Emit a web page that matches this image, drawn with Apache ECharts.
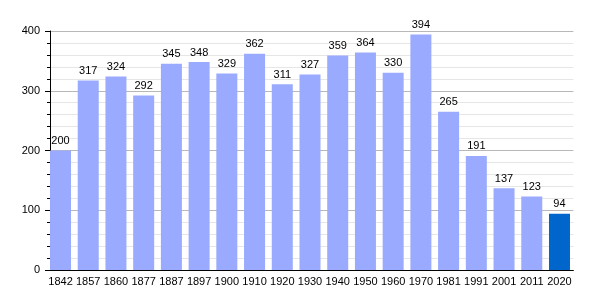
<!DOCTYPE html>
<html><head><meta charset="utf-8">
<script src="https://cdn.jsdelivr.net/npm/echarts@6/dist/echarts.min.js"></script>
<style>html,body{margin:0;padding:0;background:#fff}#c{width:600px;height:300px}</style>
</head><body><div id="c"></div>
<script>
const years = ['1842','1857','1860','1877','1887','1897','1900','1910','1920','1930','1940','1950','1960','1970','1981','1991','2001','2011','2020'];
const population = [200,317,324,292,345,348,329,362,311,327,359,364,330,394,265,191,137,123,94];
const yTicks = {min:0, max:400, interval:100};
const baseColor = '#99aaff';
const lastColor = '#0066cc';

const chart = echarts.init(document.getElementById('c'), null, {renderer:'canvas'});
const barData = population.map((v,i)=>({value:v, itemStyle:{color: i===population.length-1 ? lastColor : baseColor}}));
const font = 'Liberation Sans, Arial, sans-serif';
chart.setOption({
  animation:false,
  grid:{left:46.65, right:26.65, top:31, bottom:30, containLabel:false},
  xAxis:{type:'category', data:years,
    axisLine:{lineStyle:{color:'#000', width:1}},
    axisTick:{show:false},
    axisLabel:{color:'#000', fontSize:11, fontFamily:font, margin:6, interval:0}},
  yAxis:{type:'value', min:yTicks.min, max:yTicks.max, interval:yTicks.interval, offset:-3.35,
    axisLine:{show:true, lineStyle:{color:'#000'}},
    axisTick:{show:true, length:5, lineStyle:{color:'#000'}},
    minorTick:{show:true, splitNumber:5, length:3, lineStyle:{color:'#000'}},
    splitLine:{show:true, lineStyle:{color:'#b8b8b8'}},
    minorSplitLine:{show:true, lineStyle:{color:'#e6e6e6'}},
    axisLabel:{color:'#000', fontSize:11, fontFamily:font, margin:10}},
  series:[{type:'bar', data:barData, barWidth:21,
    label:{show:true, position:'top', color:'#000', fontSize:11, fontFamily:font, distance:4}}]
});
</script></body></html>
